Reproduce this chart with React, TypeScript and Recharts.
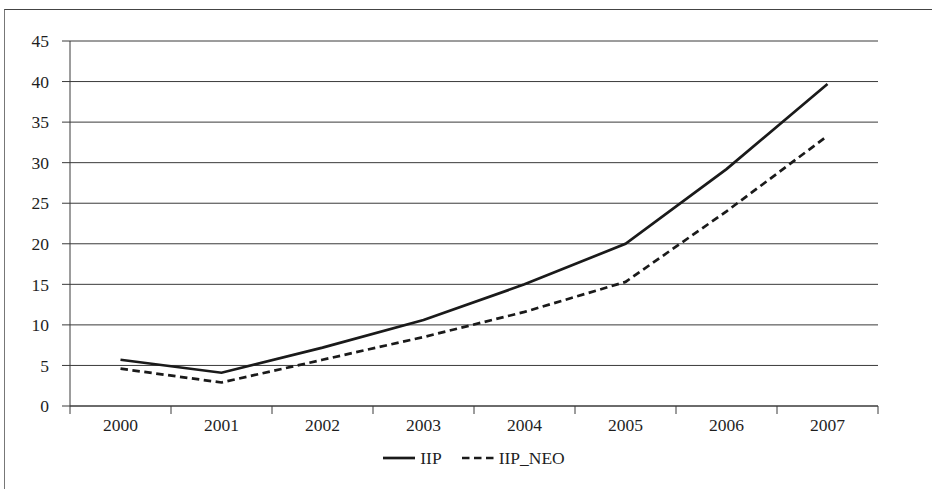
import React from "react";
import { LineChart, Line, XAxis, YAxis, CartesianGrid, Legend } from "recharts";

const years = ["2000", "2001", "2002", "2003", "2004", "2005", "2006", "2007"];
const iipValues = [5.7, 4.1, 7.2, 10.6, 15.0, 20.0, 29.2, 39.7];
const iipNeoValues = [4.6, 2.9, 5.7, 8.5, 11.6, 15.3, 24.0, 33.3];
const yTicks = [0, 5, 10, 15, 20, 25, 30, 35, 40, 45];
const xTicks = [-0.5, 0, 0.5, 1, 1.5, 2, 2.5, 3, 3.5, 4, 4.5, 5, 5.5, 6, 6.5, 7, 7.5];

const data = years.map((year, i) => ({
  idx: i,
  year,
  IIP: iipValues[i],
  IIP_NEO: iipNeoValues[i],
}));

const FONT = "'Liberation Serif', 'Times New Roman', serif";
const INK = "#1a1a1a";
const GRID = "#3a3a3a";
const DASH = "7.5 4.5";

const XTick = (props: any) => {
  const { x, y, payload } = props;
  const v = payload.value as number;
  if (Number.isInteger(v)) {
    return (
      <text x={x} y={y + 25} textAnchor="middle" fontFamily={FONT} fontSize={17.5} fill="#1e1e1e">
        {years[v]}
      </text>
    );
  }
  return <line x1={x} x2={x} y1={y} y2={y + 8} stroke={GRID} strokeWidth={1} />;
};

const LegendContent = () => (
  <div
    style={{
      display: "flex",
      justifyContent: "center",
      alignItems: "center",
      height: 24,
      fontFamily: FONT,
      fontSize: 17.5,
      color: "#1e1e1e",
    }}
  >
    <svg width={32} height={6} style={{ marginRight: 5 }}>
      <line x1={0} x2={32} y1={3} y2={3} stroke={INK} strokeWidth={2.7} />
    </svg>
    <span style={{ marginRight: 20 }}>IIP</span>
    <svg width={32} height={6} style={{ marginRight: 5 }}>
      <line x1={0} x2={32} y1={3} y2={3} stroke={INK} strokeWidth={2.7} strokeDasharray={DASH} />
    </svg>
    <span>IIP_NEO</span>
  </div>
);

export default function App() {
  return (
    <div
      style={{
        position: "absolute",
        left: 0,
        top: 0,
        width: 932,
        height: 489,
        background: "#fff",
        overflow: "hidden",
      }}
    >
      <div
        style={{
          position: "absolute",
          left: 4,
          top: 9,
          width: 1000,
          height: 1000,
          borderTop: "1.5px solid #444",
          borderLeft: "1.5px solid #777",
        }}
      />
      <div style={{ position: "absolute", left: 0, top: 0 }}>
        <LineChart
          width={932}
          height={489}
          data={data}
          margin={{ top: 41, right: 54, left: 0, bottom: 19 }}
        >
          <CartesianGrid horizontal={true} vertical={false} stroke={GRID} strokeWidth={1} />
          <XAxis
            dataKey="idx"
            type="number"
            domain={[-0.5, 7.5]}
            ticks={xTicks}
            interval={0}
            tickLine={false}
            tickSize={0}
            tickMargin={0}
            axisLine={{ stroke: GRID, strokeWidth: 1 }}
            height={40}
            tick={<XTick />}
          />
          <YAxis
            type="number"
            domain={[0, 45]}
            ticks={yTicks}
            interval={0}
            width={70}
            tickSize={8}
            tickMargin={13}
            axisLine={{ stroke: GRID, strokeWidth: 1 }}
            tickLine={{ stroke: GRID, strokeWidth: 1 }}
            tick={{ fontFamily: FONT, fontSize: 17.5, fill: "#1e1e1e" }}
          />
          <Legend
            verticalAlign="bottom"
            content={<LegendContent />}
            wrapperStyle={{ left: 70, width: 808 }}
          />
          <Line
            type="linear"
            dataKey="IIP"
            stroke={INK}
            strokeWidth={2.7}
            dot={false}
            activeDot={false}
            isAnimationActive={false}
          />
          <Line
            type="linear"
            dataKey="IIP_NEO"
            stroke={INK}
            strokeWidth={2.7}
            strokeDasharray={DASH}
            dot={false}
            activeDot={false}
            isAnimationActive={false}
          />
        </LineChart>
      </div>
    </div>
  );
}
